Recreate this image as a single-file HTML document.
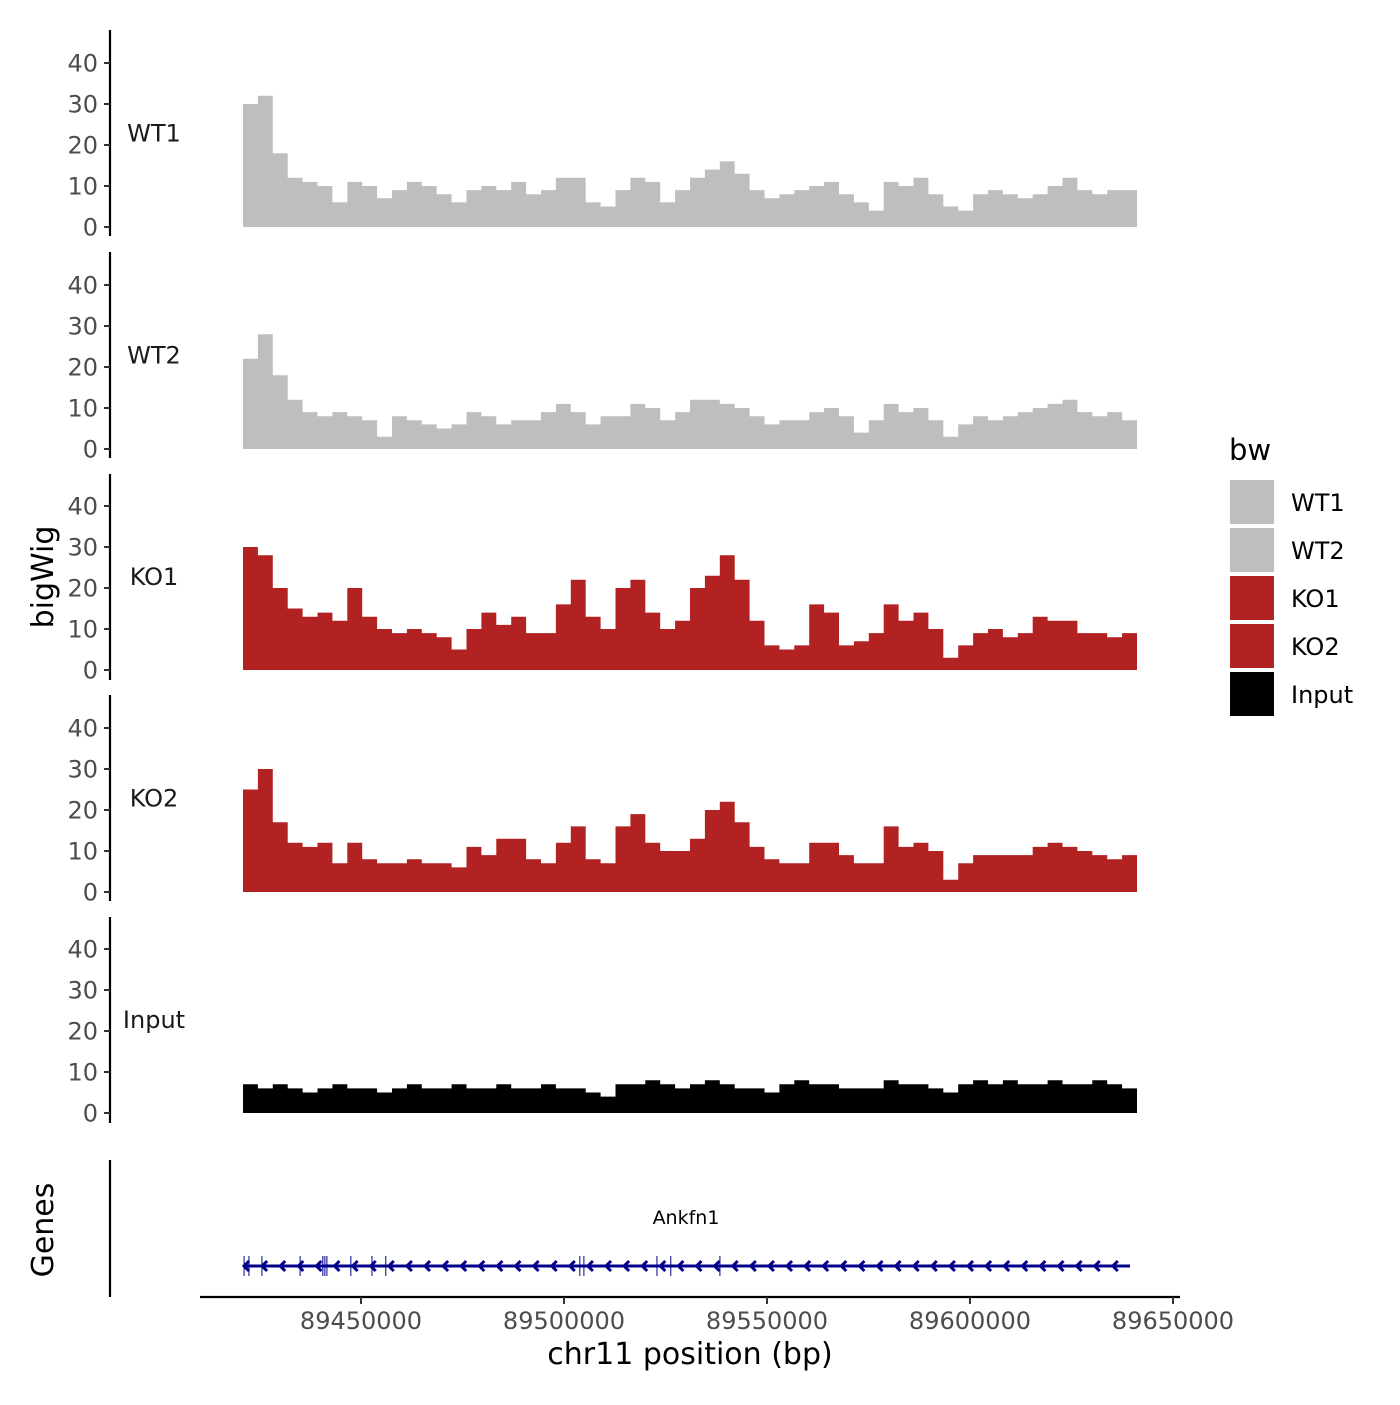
<!DOCTYPE html>
<html><head><meta charset="utf-8"><style>
body{margin:0;background:#fff}
svg text{font-family:"DejaVu Sans","Liberation Sans",sans-serif}
</style></head><body>
<svg id="chart" width="1400" height="1400" xmlns="http://www.w3.org/2000/svg">
<g id="g"></g>
</svg>
<script>
const trackNames=["WT1","WT2","KO1","KO2","Input"];
const trackColors=["#BEBEBE","#BEBEBE","#B22222","#B22222","#000000"];
const wt1=[30,32,18,12,11,10,6,11,10,7,9,11,10,8,6,9,10,9,11,8,9,12,12,6,5,9,12,11,6,9,12,14,16,13,9,7,8,9,10,11,8,6,4,11,10,12,8,5,4,8,9,8,7,8,10,12,9,8,9,9];
const wt2=[22,28,18,12,9,8,9,8,7,3,8,7,6,5,6,9,8,6,7,7,9,11,9,6,8,8,11,10,7,9,12,12,11,10,8,6,7,7,9,10,8,4,7,11,9,10,7,3,6,8,7,8,9,10,11,12,9,8,9,7];
const ko1=[30,28,20,15,13,14,12,20,13,10,9,10,9,8,5,10,14,11,13,9,9,16,22,13,10,20,22,14,10,12,20,23,28,22,12,6,5,6,16,14,6,7,9,16,12,14,10,3,6,9,10,8,9,13,12,12,9,9,8,9];
const ko2=[25,30,17,12,11,12,7,12,8,7,7,8,7,7,6,11,9,13,13,8,7,12,16,8,7,16,19,12,10,10,13,20,22,17,11,8,7,7,12,12,9,7,7,16,11,12,10,3,7,9,9,9,9,11,12,11,10,9,8,9];
const inputVals=[7,6,7,6,5,6,7,6,6,5,6,7,6,6,7,6,6,7,6,6,7,6,6,5,4,7,7,8,7,6,7,8,7,6,6,5,7,8,7,7,6,6,6,8,7,7,6,5,7,8,7,8,7,7,8,7,7,8,7,6];
const series=[wt1,wt2,ko1,ko2,inputVals];
const yTicks=[0,10,20,30,40];
const xTicks=[89450000,89500000,89550000,89600000,89650000];
const xTickLabels=["89450000","89500000","89550000","89600000","89650000"];
const regionStart=89420936, regionEnd=89641133;
const exonPositions=[89421200,89422400,89425600,89435000,89440600,89441100,89441600,89447500,89452700,89456100,89503900,89504900,89522900,89526300,89538400];
const geneName="Ankfn1";
const geneEnd=89639400;

const NS="http://www.w3.org/2000/svg";
const g=document.getElementById('g');
function el(tag,attrs,parent){const e=document.createElementNS(NS,tag);for(const k in attrs)e.setAttribute(k,attrs[k]);(parent||g).appendChild(e);return e;}
function xs(p){return 361+(p-89450000)*203/50000;}
const zeros=[227,449,670,892,1113];
const tops=[30,252,474,695,917];
function ys(i,v){return zeros[i]-v*4.1;}

series.forEach((vals,i)=>{
  const grp=el('g',{});
  
  
  const ax=el('line',{x1:110,x2:110,y1:tops[i],y2:tops[i]+206,stroke:'#000','stroke-width':2.2},grp);
  
  
  yTicks.forEach(t=>{
    const y=ys(i,t);
    el('line',{x1:104,x2:110,y1:y,y2:y,stroke:'#333','stroke-width':2},grp);
    const tx=el('text',{x:98,y:y+8.5,'text-anchor':'end','font-size':24,fill:'#4d4d4d'},grp);
    tx.textContent=t;
    
    
  });
  const lb=el('text',{x:154,y:(tops[i]+zeros[i])/2+13,'text-anchor':'middle','font-size':24,fill:'#1a1a1a'},grp);
  lb.textContent=trackNames[i];
  
  
  const n=vals.length;
  let d='M'+xs(regionStart)+','+zeros[i];
  vals.forEach((v,j)=>{
    const p0=regionStart+j*(regionEnd-regionStart)/n, p1=regionStart+(j+1)*(regionEnd-regionStart)/n;
    d+=' L'+xs(p0).toFixed(1)+','+ys(i,v).toFixed(1)+' L'+xs(p1).toFixed(1)+','+ys(i,v).toFixed(1);
  });
  d+=' L'+xs(regionEnd)+','+zeros[i]+'Z';
  const a=el('path',{d:d,fill:trackColors[i]},grp);
  
  
});

const bt=el('text',{x:0,y:0,transform:'translate(53,577) rotate(-90)','text-anchor':'middle','font-size':30,fill:'#000'});
bt.textContent='bigWig';



const gt=el('text',{x:0,y:0,transform:'translate(53,1230) rotate(-90)','text-anchor':'middle','font-size':30,fill:'#000'});
gt.textContent='Genes';


const gax=el('line',{x1:110,x2:110,y1:1160,y2:1297,stroke:'#000','stroke-width':2.2});


const gl=el('line',{x1:xs(regionStart),x2:xs(geneEnd),y1:1266,y2:1266,stroke:'#00008B','stroke-width':3});


for(let x=xs(regionStart)+1;x<xs(geneEnd);x+=18.1){
  const ar=el('path',{d:`M${x+5},${1261} L${x},${1266} L${x+5},${1271}`,stroke:'#00008B','stroke-width':3,fill:'none'});
  
  
}
exonPositions.forEach(p=>{
  const ex=el('line',{x1:xs(p),x2:xs(p),y1:1256,y2:1276,stroke:'#00008B','stroke-width':1});
  
  
});
const gn=el('text',{x:686,y:1224,'text-anchor':'middle','font-size':19,fill:'#000'});
gn.textContent=geneName;



const xa=el('line',{x1:200,x2:1180,y1:1297,y2:1297,stroke:'#000','stroke-width':2.2});


xTicks.forEach((t,k)=>{
  const x=xs(t);
  el('line',{x1:x,x2:x,y1:1297,y2:1304,stroke:'#333','stroke-width':2});
  const tx=el('text',{x:x,y:1329,'text-anchor':'middle','font-size':24,fill:'#4d4d4d'});
  tx.textContent=xTickLabels[k];
  
  
});
const xt=el('text',{x:690,y:1364,'text-anchor':'middle','font-size':30,fill:'#000'});
xt.textContent='chr11 position (bp)';



const lg=el('g',{});


const lt=el('text',{x:1229,y:460,'font-size':29,fill:'#000'},lg);
lt.textContent='bw';


trackNames.forEach((n,i)=>{
  const r=el('rect',{x:1230,y:480+i*48,width:44,height:44,fill:trackColors[i]},lg);
  
  
  const t=el('text',{x:1291,y:511+i*48,'font-size':24,fill:'#000'},lg);
  t.textContent=n;
  
  
});
</script>
</body></html>
